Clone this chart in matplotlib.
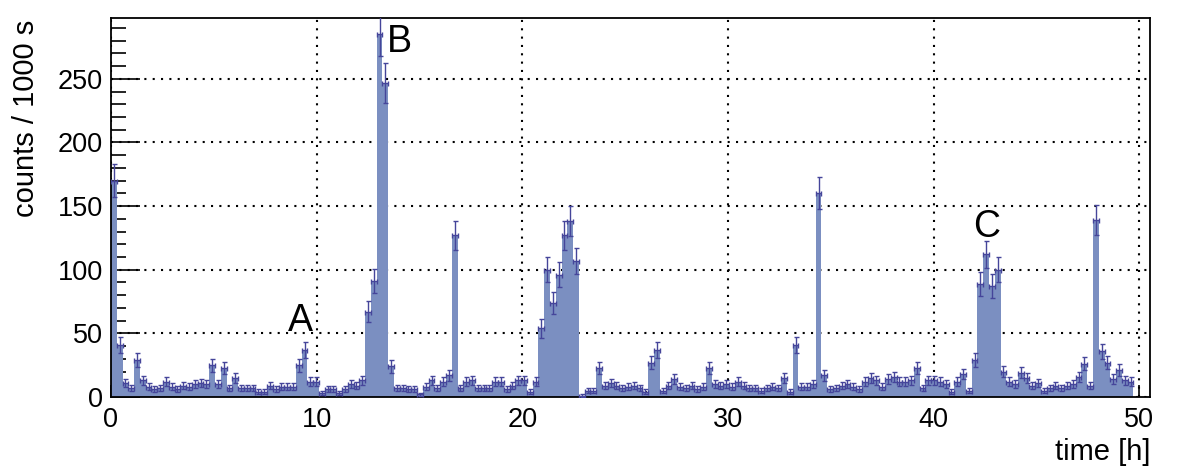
import numpy as np
import matplotlib.pyplot as plt
from matplotlib.ticker import MultipleLocator

plt.rcParams['font.family'] = ['Liberation Sans', 'DejaVu Sans']

# counts per bin (1000 s bins)
counts = [170, 41, 11, 7, 29, 13, 8, 6, 7, 12, 8, 6, 9, 8, 10, 11, 10, 25, 10, 23,
          7, 15, 7, 7, 7, 4, 4, 9, 6, 8, 8, 8, 25, 37, 12, 12, 3, 6, 6, 3,
          6, 10, 9, 13, 67, 91, 285, 247, 24, 7, 7, 6, 6, 2, 8, 13, 7, 12, 17, 127,
          7, 12, 13, 7, 7, 7, 12, 12, 6, 9, 13, 13, 4, 12, 54, 100, 74, 96, 127, 138,
          107, 1, 5, 5, 23, 9, 11, 9, 7, 8, 9, 7, 4, 27, 37, 5, 9, 14, 8, 7,
          9, 6, 8, 23, 10, 9, 10, 8, 12, 9, 7, 7, 5, 7, 8, 7, 15, 4, 41, 8,
          8, 10, 160, 17, 6, 7, 9, 10, 8, 6, 12, 15, 13, 8, 14, 16, 12, 12, 13, 23,
          7, 13, 13, 12, 10, 4, 12, 18, 5, 29, 89, 112, 87, 100, 20, 12, 10, 19, 15, 9,
          11, 5, 7, 9, 7, 9, 10, 16, 26, 9, 139, 36, 27, 14, 21, 13, 12]
t_end = 49.72
xticks = [0, 10, 20, 30, 40, 50]
yticks = [0, 50, 100, 150, 200, 250]
labels = ['A', 'B', 'C']
label_x = [9.2, 14.05, 42.6]
label_y = [52, 271, 126]

counts = np.array(counts, dtype=float)
edges = np.linspace(0, t_end, len(counts) + 1)
centers = 0.5 * (edges[:-1] + edges[1:])
bw = edges[1] - edges[0]

fig = plt.figure(figsize=(11.82, 4.73), dpi=100)
ax = fig.add_axes([0.0939, 0.1607, 0.973 - 0.0939, 0.9626 - 0.1607])

ax.bar(centers, counts, width=bw, color='#7b8fc1', edgecolor='none', zorder=2)
ax.errorbar(centers, counts, yerr=np.sqrt(counts), xerr=bw * 0.5, fmt='none',
            ecolor='#45459a', elinewidth=1.0, capsize=1.8, capthick=1.0, zorder=3)

for s, x, y in zip(labels, label_x, label_y):
    ax.text(x, y, s, fontsize=27, ha='center', va='baseline', zorder=4)

ax.set_xlim(0, 50.53)
ax.set_ylim(0, 298)
ax.set_xticks(xticks)
ax.set_yticks(yticks)
ax.xaxis.set_minor_locator(MultipleLocator(2))
ax.yaxis.set_minor_locator(MultipleLocator(10))
ax.tick_params(which='both', direction='in', labelsize=19.5, top=False, right=False)
ax.tick_params(axis='y', which='major', length=21, width=1.2, pad=6)
ax.tick_params(axis='y', which='minor', length=11, width=1.2)
ax.tick_params(axis='x', which='major', length=8.5, width=1.2, pad=7)
ax.tick_params(axis='x', which='minor', length=4.5, width=1.2)
ax.grid(True, which='major', color='black', linestyle=(0, (1, 3)), linewidth=1.5, zorder=1)
ax.set_axisbelow(True)
for sp in ax.spines.values():
    sp.set_linewidth(1.3)

ax.set_xlabel('time [h]', fontsize=21, loc='right', labelpad=4)
ax.set_ylabel('counts / 1000 s', fontsize=21, loc='top')
ax.yaxis.set_label_coords(-0.068, 0.995)

fig.savefig('out.png', dpi=100)
